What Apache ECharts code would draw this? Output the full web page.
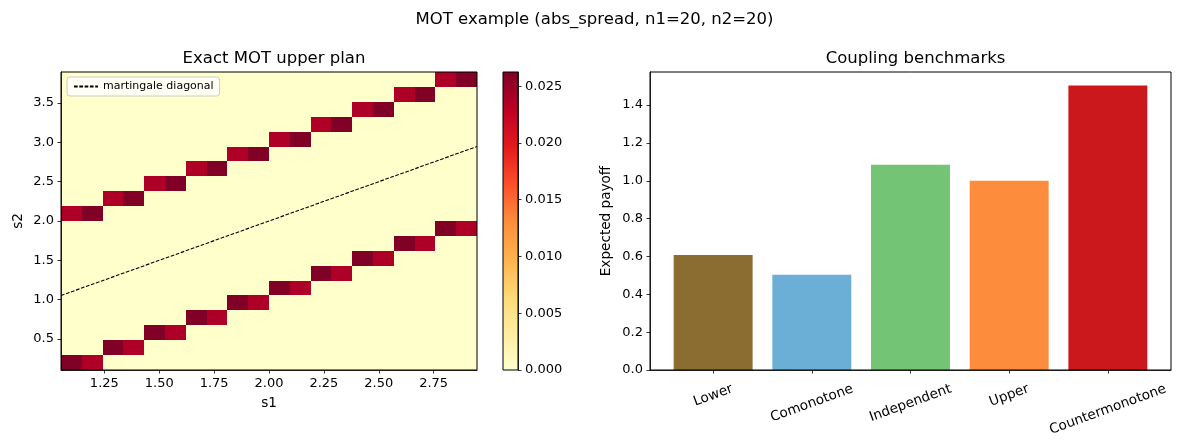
<!DOCTYPE html>
<html>
<head>
<meta charset="utf-8">
<script src="https://cdn.jsdelivr.net/npm/echarts@6/dist/echarts.min.js"></script>
<style>
  html, body { margin: 0; padding: 0; background: #fff; }
  #main { width: 1179px; height: 446px; }
</style>
</head>
<body>
<div id="main"></div>
<script type="text/javascript">
// 离散网格 s1 / s2
var s1Grid = [1.1000, 1.1947, 1.2895, 1.3842, 1.4789, 1.5737, 1.6684, 1.7632, 1.8579, 1.9526,
              2.0474, 2.1421, 2.2368, 2.3316, 2.4263, 2.5211, 2.6158, 2.7105, 2.8053, 2.9000];
var s2Grid = [0.2000, 0.3895, 0.5789, 0.7684, 0.9579, 1.1474, 1.3368, 1.5263, 1.7158, 1.9053,
              2.0947, 2.2842, 2.4737, 2.6632, 2.8526, 3.0421, 3.2316, 3.4211, 3.6105, 3.8000];
// upper plan: 每个 s1 列只有两个 s2 格子有质量
var lowRow   = [0, 0, 1, 1, 2, 2, 3, 3, 4, 4, 5, 5, 6, 6, 7, 7, 8, 8, 9, 9];
var highRow  = [10, 10, 11, 11, 12, 12, 13, 13, 14, 14, 15, 15, 16, 16, 17, 17, 18, 18, 19, 19];
var lowMass  = [0.02625, 0.02375, 0.02625, 0.02375, 0.02625, 0.02375, 0.02625, 0.02375, 0.02625, 0.02375,
                0.02625, 0.02375, 0.02625, 0.02375, 0.02625, 0.02375, 0.02625, 0.02375, 0.02625, 0.02375];
var highMass = [0.02375, 0.02625, 0.02375, 0.02625, 0.02375, 0.02625, 0.02375, 0.02625, 0.02375, 0.02625,
                0.02375, 0.02625, 0.02375, 0.02625, 0.02375, 0.02625, 0.02375, 0.02625, 0.02375, 0.02625];
var planMax = 0.02625;

var s1Ticks = [1.25, 1.5, 1.75, 2.0, 2.25, 2.5, 2.75];
var s2Ticks = [0.5, 1.0, 1.5, 2.0, 2.5, 3.0, 3.5];
var cbTicks = [0, 0.005, 0.01, 0.015, 0.02, 0.025];

// 右图 coupling benchmarks
var couplings = ['Lower', 'Comonotone', 'Independent', 'Upper', 'Countermonotone'];
var payoffs = [0.608, 0.503, 1.085, 1.0, 1.503];
var payoffTicks = [0, 0.2, 0.4, 0.6, 0.8, 1.0, 1.2, 1.4];
var barColors = ['#8c6d31', '#6baed6', '#74c476', '#fd8d3c', '#cb181d'];

var ylorrd = ['#ffffcc', '#ffeda0', '#fed976', '#feb24c', '#fd8d3c', '#fc4e2a', '#e31a1c', '#bd0026', '#800026'];
var FONT = 'DejaVu Sans';

// 热力图数据 [s1, s2, mass]
var heatData = [];
for (var i = 0; i < s1Grid.length; i++) {
  for (var j = 0; j < s2Grid.length; j++) {
    var v = 0;
    if (j === lowRow[i]) v += lowMass[i];
    if (j === highRow[i]) v += highMass[i];
    heatData.push([s1Grid[i], s2Grid[j], v]);
  }
}
var hx = (s1Grid[s1Grid.length - 1] - s1Grid[0]) / (s1Grid.length - 1) / 2;
var hy = (s2Grid[s2Grid.length - 1] - s2Grid[0]) / (s2Grid.length - 1) / 2;
var xMin = s1Grid[0] - hx, xMax = s1Grid[s1Grid.length - 1] + hx;
var yMin = s2Grid[0] - hy, yMax = s2Grid[s2Grid.length - 1] + hy;

// 旋转标签: 按文字宽度补 padding, 让旋转后的文字中心落在刻度正下方
var CAT_SIZE = 13.6;
var ctx = document.createElement('canvas').getContext('2d');
ctx.font = CAT_SIZE + 'px "' + FONT + '"';
var rich = {};
var rot = 20 * Math.PI / 180;
couplings.forEach(function (name, k) {
  var w = ctx.measureText(name).width;
  var p = w * Math.sin(rot) * Math.cos(rot);
  var q = p * Math.tan(rot);
  rich['c' + k] = { fontFamily: FONT, fontSize: CAT_SIZE, color: '#000', padding: [p, q, 0, 0] };
});

var tickStyle = { color: '#000', width: 0.8 };
var labelStyle = { color: '#000', fontFamily: FONT, fontSize: 13, margin: 7 };

var stops = ylorrd.map(function (c, k) { return { offset: k / (ylorrd.length - 1), color: c }; });

var chart = echarts.init(document.getElementById('main'));
chart.setOption({
  animation: false,
  backgroundColor: '#fff',
  title: [
    { text: 'MOT example (abs_spread, n1=20, n2=20)', left: 589.5, top: 6, textAlign: 'center',
      textStyle: { fontFamily: FONT, fontSize: 16.5, fontWeight: 'normal', color: '#000' } },
    { text: 'Exact MOT upper plan', left: 269, top: 45, textAlign: 'center',
      textStyle: { fontFamily: FONT, fontSize: 16.5, fontWeight: 'normal', color: '#000' } },
    { text: 'Coupling benchmarks', left: 910.5, top: 45, textAlign: 'center',
      textStyle: { fontFamily: FONT, fontSize: 16.5, fontWeight: 'normal', color: '#000' } }
  ],
  legend: {
    data: ['martingale diagonal'],
    left: 67, top: 77,
    itemWidth: 24, itemHeight: 8, itemGap: 4,
    padding: [4, 6, 4, 6],
    backgroundColor: 'rgba(255,255,255,0.8)',
    borderColor: '#cccccc', borderWidth: 1, borderRadius: 3,
    itemStyle: { opacity: 0 },
    textStyle: { fontFamily: FONT, fontSize: 11, color: '#000' }
  },
  visualMap: {
    show: false, type: 'continuous', seriesIndex: 0, dimension: 2,
    min: 0, max: planMax, inRange: { color: ylorrd }
  },
  grid: [
    { left: 61, top: 72, width: 416, height: 298, show: true, z: 10, borderColor: '#000', borderWidth: 1, backgroundColor: 'transparent', outerBoundsMode: 'none' },
    { left: 503, top: 72, width: 15, height: 298, show: true, z: 10, borderColor: '#000', borderWidth: 1, backgroundColor: 'transparent', outerBoundsMode: 'none' },
    { left: 650, top: 72, width: 521, height: 298, show: true, z: 10, borderColor: '#000', borderWidth: 1, backgroundColor: 'transparent', outerBoundsMode: 'none' }
  ],
  xAxis: [
    { type: 'value', gridIndex: 0, min: xMin, max: xMax, z: 10,
      name: 's1', nameLocation: 'middle', nameGap: 26,
      nameTextStyle: { fontFamily: FONT, fontSize: 13.6, color: '#000' },
      axisLine: { show: true, onZero: false, lineStyle: { color: '#000', width: 0.8 } },
      axisTick: { show: true, length: 3.5, customValues: s1Ticks, lineStyle: tickStyle },
      axisLabel: Object.assign({ customValues: s1Ticks, formatter: function (v) { return v.toFixed(2); } }, labelStyle),
      splitLine: { show: false } },
    { type: 'value', gridIndex: 1, min: 0, max: 1, show: false },
    { type: 'value', gridIndex: 2, min: -0.64, max: 4.64, z: 10,
      axisLine: { show: true, onZero: false, lineStyle: { color: '#000', width: 0.8 } },
      axisTick: { show: true, length: 3.5, customValues: [0, 1, 2, 3, 4], lineStyle: tickStyle },
      axisLabel: { customValues: [0, 1, 2, 3, 4], rotate: 20, align: 'center', verticalAlign: 'middle', margin: 18.5,
        formatter: function (v) { var k = Math.round(v); return '{c' + k + '|' + couplings[k] + '}'; },
        rich: rich },
      splitLine: { show: false } }
  ],
  yAxis: [
    { type: 'value', gridIndex: 0, min: yMin, max: yMax, z: 10,
      name: 's2', nameLocation: 'middle', nameGap: 36,
      nameTextStyle: { fontFamily: FONT, fontSize: 13.6, color: '#000' },
      axisLine: { show: true, onZero: false, lineStyle: { color: '#000', width: 0.8 } },
      axisTick: { show: true, length: 3.5, customValues: s2Ticks, lineStyle: tickStyle },
      axisLabel: Object.assign({ customValues: s2Ticks, formatter: function (v) { return v.toFixed(1); } }, labelStyle),
      splitLine: { show: false } },
    { type: 'value', gridIndex: 1, min: 0, max: planMax, position: 'right', z: 10,
      axisLine: { show: true, onZero: false, lineStyle: { color: '#000', width: 0.8 } },
      axisTick: { show: true, length: 3.5, customValues: cbTicks, lineStyle: tickStyle },
      axisLabel: Object.assign({ customValues: cbTicks, formatter: function (v) { return v.toFixed(3); } }, labelStyle),
      splitLine: { show: false } },
    { type: 'value', gridIndex: 2, min: 0, max: 1.575, z: 10,
      name: 'Expected payoff', nameLocation: 'middle', nameGap: 37,
      nameTextStyle: { fontFamily: FONT, fontSize: 13.6, color: '#000' },
      axisLine: { show: true, onZero: false, lineStyle: { color: '#000', width: 0.8 } },
      axisTick: { show: true, length: 3.5, customValues: payoffTicks, lineStyle: tickStyle },
      axisLabel: Object.assign({ customValues: payoffTicks, formatter: function (v) { return v.toFixed(1); } }, labelStyle),
      splitLine: { show: false } }
  ],
  series: [
    {
      type: 'custom', name: 'plan', xAxisIndex: 0, yAxisIndex: 0,
      data: heatData, encode: { x: 0, y: 1 },
      renderItem: function (params, api) {
        var x = api.value(0), y = api.value(1);
        var p0 = api.coord([x - hx, y + hy]);
        var p1 = api.coord([x + hx, y - hy]);
        // 取整到像素, 相邻格子无缝拼接
        var x0 = Math.round(p0[0]), y0 = Math.round(p0[1]);
        var x1 = Math.round(p1[0]), y1 = Math.round(p1[1]);
        return { type: 'rect',
          shape: { x: x0, y: y0, width: x1 - x0, height: y1 - y0 },
          style: { fill: api.visual('color'), stroke: 'none', lineWidth: 0 } };
      }
    },
    {
      type: 'line', name: 'martingale diagonal', xAxisIndex: 0, yAxisIndex: 0,
      data: [[xMin, xMin], [xMax, xMax]], symbol: 'none', z: 5,
      lineStyle: { color: '#000', width: 1.1, type: [3.7, 1.6] },
      itemStyle: { color: '#000' }
    },
    {
      type: 'custom', name: 'colorbar', xAxisIndex: 1, yAxisIndex: 1,
      data: [[0, planMax]],
      renderItem: function (params, api) {
        var p0 = api.coord([0, api.value(1)]);
        var p1 = api.coord([1, 0]);
        return { type: 'rect',
          shape: { x: p0[0], y: p0[1], width: p1[0] - p0[0], height: p1[1] - p0[1] },
          style: { fill: new echarts.graphic.LinearGradient(0, 1, 0, 0, stops) } };
      }
    },
    {
      type: 'custom', name: 'payoff', xAxisIndex: 2, yAxisIndex: 2,
      data: payoffs.map(function (v, k) { return { value: [k, v], itemStyle: { color: barColors[k] } }; }),
      encode: { x: 0, y: 1 },
      renderItem: function (params, api) {
        var k = api.value(0), v = api.value(1);
        var p0 = api.coord([k - 0.4, v]);
        var p1 = api.coord([k + 0.4, 0]);
        return { type: 'rect',
          shape: { x: p0[0], y: p0[1], width: p1[0] - p0[0], height: p1[1] - p0[1] },
          style: { fill: api.visual('color') } };
      }
    }
  ]
});
</script>
</body>
</html>
